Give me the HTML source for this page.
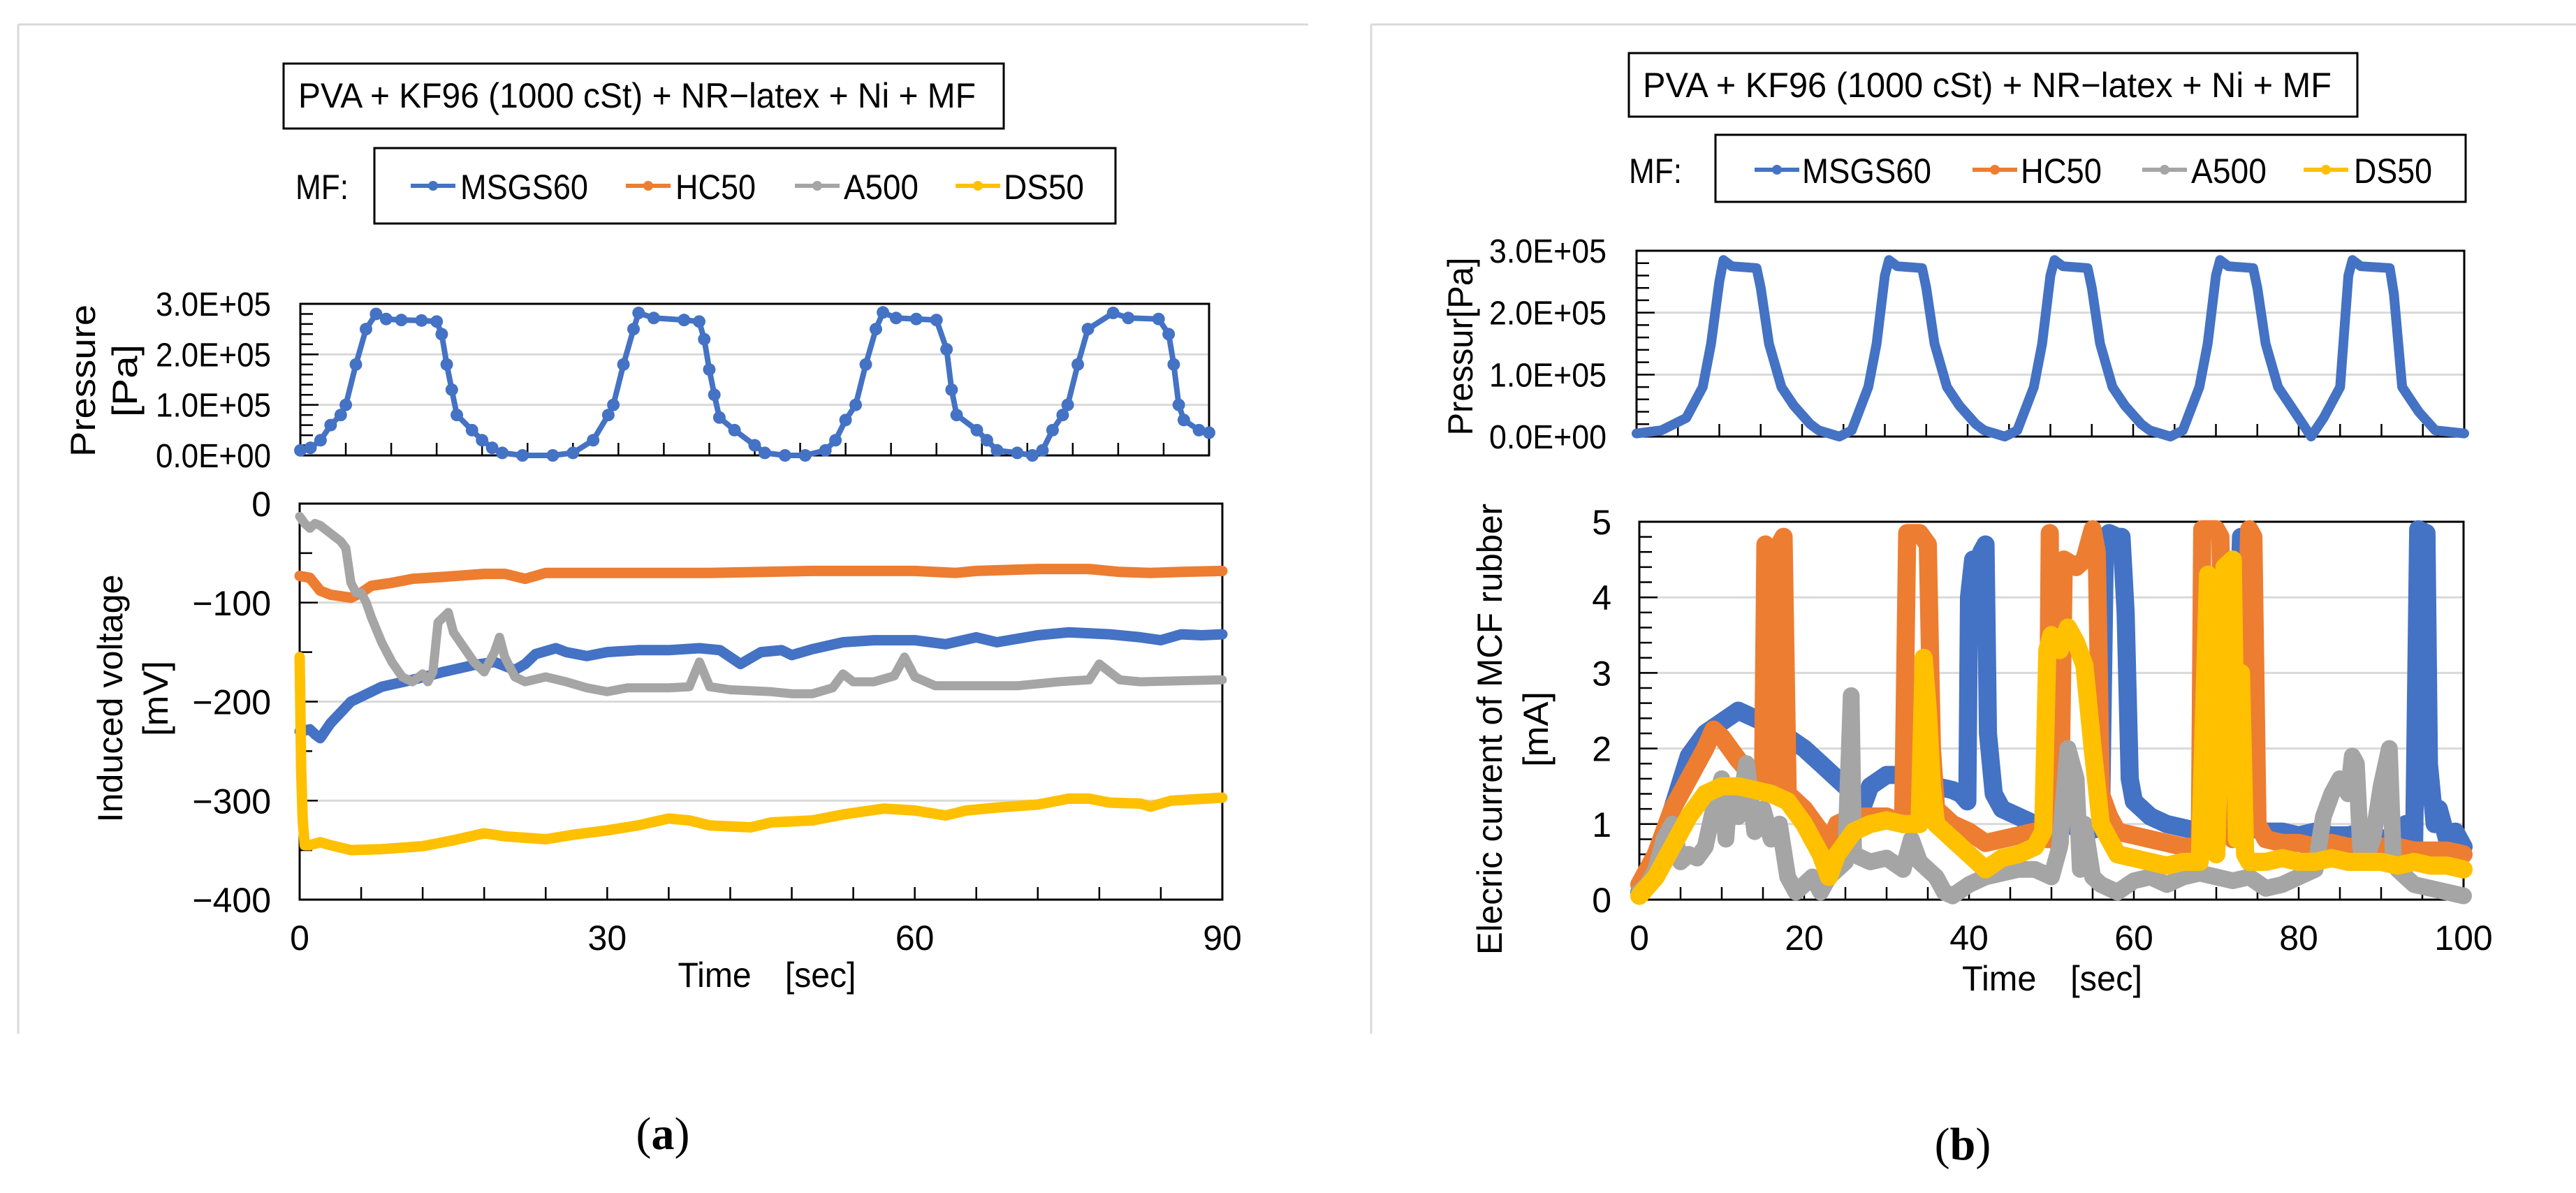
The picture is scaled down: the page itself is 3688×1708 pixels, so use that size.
<!DOCTYPE html>
<html><head><meta charset="utf-8">
<style>
html,body{margin:0;padding:0;background:#fff;}
svg{display:block;}
text{font-family:"Liberation Sans","Noto Sans CJK JP",sans-serif;fill:#000;}
</style></head>
<body>
<svg id="fig" width="3688" height="1708" viewBox="0 0 3688 1708" xmlns="http://www.w3.org/2000/svg">
  <g stroke="#d9d9d9" stroke-width="3" fill="none">
    <line x1="26" y1="35" x2="1873" y2="35"/>
    <line x1="26" y1="35" x2="26" y2="1480"/>
    <line x1="1963" y1="35" x2="3688" y2="35"/>
    <line x1="1963" y1="35" x2="1963" y2="1480"/>
  </g>
  <g id="panelA"></g>
  <g id="panelB"></g>
  <text x="949" y="1645" font-size="66" text-anchor="middle" style="font-family:'Liberation Serif',serif">(<tspan font-weight="bold">a</tspan>)</text>
  <text x="2810" y="1660" font-size="66" text-anchor="middle" style="font-family:'Liberation Serif',serif">(<tspan font-weight="bold">b</tspan>)</text>
</svg>
<script>
// ---------- DATA ----------
const seriesNames = ["MSGS60","HC50","A500","DS50"];
const seriesColors = ["#4472c4","#ed7d31","#a5a5a5","#ffc000"];

// Panel (a) pressure [x1e5 Pa]
const aPressT = [0,1,2,3,4,4.5,5.5,6.5,7.5,8.5,10,12,13.5,14,14.5,15,15.5,17,18,19,20,22,25,27,29,30.5,31,32,33,33.5,35,38,39.5,40,40.5,41,41.5,43,45,46,48,50,52,53,54,55,56,57,57.7,59,61,63,64,64.5,65,67,68,69,71,72.5,73.5,74.5,75.5,76,77,78,80.5,82,85,86,86.5,87,87.5,89,90];
const aPressV = [0.1,0.15,0.3,0.6,0.8,1.0,1.8,2.5,2.8,2.7,2.68,2.67,2.65,2.4,1.8,1.3,0.8,0.5,0.3,0.15,0.05,0.0,0.0,0.05,0.3,0.8,1.0,1.8,2.5,2.82,2.72,2.68,2.65,2.3,1.7,1.2,0.75,0.5,0.2,0.05,0.0,0.0,0.1,0.3,0.7,1.0,1.8,2.5,2.83,2.72,2.7,2.68,2.1,1.3,0.8,0.5,0.3,0.1,0.05,0.0,0.1,0.5,0.8,1.0,1.8,2.5,2.82,2.72,2.7,2.4,1.8,1.0,0.7,0.5,0.45];

// Panel (a) induced voltage [mV]
const aMsgsT = [0,1,1.5,2,3,5,8,11,14,17,19,21,22,23,25,26,28,30,33,36,39,41,43,45,47,48,50,53,56,60,63,66,68,72,75,79,82,84,86,88,90];
const aMsgsV = [-230,-228,-233,-237,-222,-200,-185,-178,-170,-163,-160,-168,-162,-152,-146,-150,-154,-150,-148,-148,-146,-148,-162,-150,-148,-153,-147,-140,-138,-138,-142,-135,-140,-133,-130,-132,-135,-138,-132,-133,-132];
const aHcT = [0,1,2,3,5,6,7,9,11,14,18,20,22,24,30,40,50,60,64,66,72,77,80,83,86,90];
const aHcV = [-73,-75,-88,-92,-95,-90,-83,-80,-76,-74,-71,-71,-76,-70,-70,-70,-68,-68,-70,-68,-66,-66,-69,-70,-69,-68];
const aA5T = [0,0.5,1,1.5,2,3,4,4.5,5,5.5,6,6.5,7,8,9,10,11,12,12.5,13,13.5,14,14.5,15,16,17,18,19,19.5,20,21,22,24,26,28,30,32,36,38,39,40,42,46,48,50,52,53,54,56,58,59,60,62,66,70,74,77,78,79,80,82,90];
const aA5V = [-13,-20,-25,-20,-22,-30,-38,-45,-80,-90,-90,-100,-115,-140,-160,-175,-180,-172,-180,-170,-120,-115,-110,-130,-145,-160,-170,-150,-135,-155,-175,-180,-175,-180,-186,-190,-186,-186,-185,-160,-185,-188,-190,-192,-192,-186,-172,-180,-180,-174,-155,-175,-184,-184,-184,-180,-178,-162,-170,-178,-180,-178];
const aDsT = [0,0.15,0.3,0.5,1,2,3,5,8,12,15,18,20,24,27,30,33,36,38,40,44,46,50,53,57,60,63,65,68,72,75,77,79,82,83,85,90];
const aDsV = [-155,-270,-320,-345,-345,-342,-345,-350,-349,-346,-340,-333,-336,-339,-334,-330,-325,-318,-320,-325,-327,-322,-320,-314,-308,-310,-315,-310,-307,-304,-298,-298,-302,-303,-306,-300,-297];
const aTicksX = [0,30,60,90];
const aTicksV = [0,-100,-200,-300,-400];
const pressTicks = [0,1,2,3];
const pressTickLabels = ["0.0E+00","1.0E+05","2.0E+05","3.0E+05"];

// Panel (b) pressure
const bPressT = [0,3,6,8,9,10,10.5,11.5,14.5,15,16,17.5,19,21,22,24.5,26,28,29,30,30.5,31.5,34.5,35,36,37.5,39,41,42,44.5,46,48,49,50,50.5,51.5,54.5,55,56,57.5,59,61,62,64.5,66,68,69,70,70.5,71.5,74.5,75,76,77.5,79,81,81.5,83,85,86,86.5,87.5,91,91.5,92.5,94.5,96.5,100];
const bPressV = [0.05,0.1,0.3,0.8,1.5,2.5,2.85,2.75,2.72,2.4,1.5,0.8,0.5,0.2,0.1,0.0,0.1,0.8,1.5,2.6,2.85,2.75,2.72,2.4,1.5,0.8,0.5,0.2,0.1,0.0,0.1,0.8,1.5,2.6,2.85,2.75,2.72,2.4,1.5,0.8,0.5,0.2,0.1,0.0,0.1,0.8,1.5,2.6,2.85,2.75,2.72,2.4,1.5,0.8,0.5,0.1,0.0,0.3,0.8,2.6,2.85,2.75,2.72,2.3,0.8,0.4,0.1,0.05];

// Panel (b) current [mA]
const bMsgsT = [0,2,4,6,8,10,12,14,16,18,20,22,24,26,27,28,30,32,34,36,38,39,39.8,40,40.5,41,41.5,42,42.3,43,44,46,48,50,52,54,56,56.5,57,58,58.5,59,59.5,60,62,64,66,68,70,72,73,73.5,74,76,78,80,82,84,86,88,90,92,93,94,94.5,95.5,95.8,96.5,97,98,99,100];
const bMsgsV = [0.1,0.5,1.2,1.9,2.2,2.35,2.5,2.4,2.3,2.15,2.0,1.8,1.6,1.4,1.2,1.5,1.65,1.65,1.55,1.5,1.45,1.4,1.3,4.0,4.5,4.3,4.6,4.7,2.2,1.4,1.2,1.1,1.0,0.95,1.0,0.9,0.95,4.8,4.85,4.8,4.8,3.8,1.6,1.3,1.1,1.0,0.95,0.9,0.9,0.85,4.8,4.7,0.95,0.9,0.9,0.85,0.9,0.85,0.85,0.9,0.8,0.85,1.0,0.7,4.9,4.85,1.8,1.0,1.2,0.8,0.9,0.7];
const bHcT = [0,2,4,6,8,9,10,12,14,15,15.3,15.8,16,17,17.5,18,20,22,23,24,26,30,32,32.5,34,35,35.5,36,38,40,42,44,46,48,49.5,49.8,50,51,51.5,53,54,55,55.5,56,57,58,60,62,64,66,68,68.3,70,70.5,71,72,73,74,74.5,75,76,78,80,82,84,86,88,90,92,94,96,98,100];
const bHcV = [0.2,0.6,1.2,1.6,2.0,2.25,2.15,1.85,1.6,1.5,4.7,4.5,1.5,4.7,4.8,1.4,1.2,0.9,0.7,1.0,1.1,1.1,1.0,4.85,4.85,4.7,2.0,1.2,1.0,0.9,0.75,0.8,0.85,0.9,0.8,4.85,0.8,0.75,4.5,4.4,4.5,4.9,4.6,1.4,1.1,0.9,0.85,0.8,0.75,0.7,0.7,4.9,4.9,4.8,1.0,0.8,0.9,4.9,4.8,1.0,0.8,0.75,0.75,0.7,0.75,0.7,0.7,0.7,0.7,0.65,0.65,0.65,0.6];
const bA5T = [0,1,2,3,4,5,6,7,8,9,10,10.5,11,12,13,14,15,16,17,18,19,20,21,22,23,25,25.7,26,28,30,32,33,34,36,37,38,40,42,44,46,48,50,51,52,53,53.5,54,55,56,58,60,62,64,66,68,70,72,74,76,78,80,82,83,84,85,86,86.5,87,87.5,88,89,90,91,91.5,92,94,96,98,100];
const bA5V = [0.1,0.2,0.4,0.8,1.0,0.5,0.6,0.55,0.7,1.2,1.6,0.8,1.5,1.1,1.8,0.9,1.2,0.8,1.0,0.3,0.1,0.2,0.3,0.1,0.3,0.5,2.7,0.6,0.5,0.55,0.4,0.8,0.5,0.3,0.1,0.05,0.2,0.3,0.35,0.4,0.4,0.3,0.7,2.0,1.6,0.4,1.0,0.3,0.2,0.1,0.25,0.3,0.2,0.3,0.35,0.3,0.25,0.3,0.15,0.2,0.3,0.4,1.1,1.4,1.6,1.4,1.9,1.8,0.7,0.5,0.8,1.5,2.0,0.5,0.4,0.2,0.15,0.1,0.05];
const bDsT = [0,2,4,6,8,10,12,14,16,18,20,22,23,24,26,28,30,32,34,34.5,35,35.5,36,38,40,42,44,46,48,49,49.5,50,51,52,53,54,55,56,57,58,60,62,64,66,68,69,69.5,70,71,72,72.5,73,73.5,74,76,78,80,82,84,86,88,90,92,94,96,98,100];
const bDsV = [0.05,0.3,0.7,1.1,1.4,1.5,1.5,1.45,1.4,1.3,1.0,0.6,0.3,0.6,0.9,1.0,1.05,1.0,1.0,3.2,2.5,1.5,1.0,0.8,0.6,0.4,0.55,0.6,0.7,0.9,3.3,3.5,3.3,3.6,3.4,3.1,2.0,1.0,0.8,0.6,0.55,0.5,0.45,0.5,0.5,4.3,1.0,0.6,4.4,4.5,0.8,3.0,0.6,0.5,0.5,0.55,0.5,0.5,0.55,0.5,0.5,0.5,0.45,0.5,0.45,0.45,0.4];
const bTicksX = [0,20,40,60,80,100];
const bTicksI = [0,1,2,3,4,5];

// ---------- HELPERS ----------
const NS = "http://www.w3.org/2000/svg";
function mk(parent, tag, attrs){
  const e = document.createElementNS(NS, tag);
  for (const k in attrs) e.setAttribute(k, attrs[k]);
  parent.appendChild(e);
  return e;
}
function txt(parent, x, y, s, size, anchor, len, rot){
  const t = mk(parent, "text", {x:x, y:y, "font-size":size, "text-anchor":anchor||"start"});
  if (len){ t.setAttribute("textLength", len); t.setAttribute("lengthAdjust","spacingAndGlyphs"); }
  if (rot) t.setAttribute("transform", "rotate(-90 "+x+" "+y+")");
  t.textContent = s;
  return t;
}
function scale(d0,d1,r0,r1){ return v => r0 + (v-d0)/(d1-d0)*(r1-r0); }
function pathFrom(ts, vs, sx, sy){
  let d = "";
  for (let i=0;i<ts.length;i++) d += (i?"L":"M") + sx(ts[i]).toFixed(1) + " " + sy(vs[i]).toFixed(1);
  return d;
}
function plotFrame(g, x0,y0,x1,y1, nx, yMajor, yMinorPer, gridVals, sy){
  const gr = mk(g,"g",{});
  
  
  gridVals.forEach(v => mk(gr,"line",{x1:x0,x2:x1,y1:sy(v),y2:sy(v),stroke:"#d9d9d9","stroke-width":3}));
  const tk = mk(g,"g",{stroke:"#000","stroke-width":2.5});
  
  
  for (let i=1;i<nx;i++){ const x = x0+(x1-x0)*i/nx; mk(tk,"line",{x1:x,x2:x,y1:y1,y2:y1-18}); }
  const n = yMajor*yMinorPer;
  for (let i=1;i<n;i++){ const y = y1-(y1-y0)*i/n; mk(tk,"line",{x1:x0,x2:x0+(i%yMinorPer===0?26:18),y1:y,y2:y}); }
  const fr = mk(g,"rect",{x:x0,y:y0,width:x1-x0,height:y1-y0,fill:"none",stroke:"#000","stroke-width":3});
  
  
}
function legend(g, bx,by,bw,bh, mfx, base, lines, texts, lens){
  const tb = mk(g,"rect",{x:bx,y:by,width:bw,height:bh,fill:"#fff",stroke:"#000","stroke-width":3});
  
  
  const mf = txt(g, mfx, base, "MF:", 50, "start", 76);
  
  
  for (let i=0;i<4;i++){
    const eg = mk(g,"g",{});
    
    
    mk(eg,"line",{x1:lines[i],x2:lines[i]+64,y1:base-19,y2:base-19,stroke:seriesColors[i],"stroke-width":6});
    mk(eg,"circle",{cx:lines[i]+32,cy:base-19,r:7,fill:seriesColors[i]});
    txt(eg, texts[i], base, seriesNames[i], 50, "start", lens[i]);
  }
}
function seriesPath(g, ts, vs, sx, sy, color, w, name, markers){
  const p = mk(g,"path",{d:pathFrom(ts,vs,sx,sy),fill:"none",stroke:color,"stroke-width":w,"stroke-linejoin":"round","stroke-linecap":"round"});
  
  
  if (markers){
    for (let i=0;i<ts.length;i++){
      const c = mk(g,"circle",{cx:sx(ts[i]),cy:sy(vs[i]),r:markers,fill:color});
      
      
    }
  }
}

// ---------- PANEL A ----------
(function(){
  const g = document.getElementById("panelA");
  const tr = mk(g,"rect",{x:406,y:91,width:1031,height:93,fill:"#fff",stroke:"#000","stroke-width":3});
  
  
  const tt = txt(g, 427, 154, "PVA + KF96 (1000 cSt) + NR\u2212latex + Ni + MF", 50, "start", 970);
  
  
  legend(g, 536,212,1061,108, 423, 285, [588,896,1138,1368],[659,967,1208,1437],[183,115,107,115]);

  const px0=430, px1=1731, py0=435, py1=652;
  const psx = scale(0,90,px0,px1), psy = scale(0,3,py1,py0);
  const pg = mk(g,"g",{});
  
  
  plotFrame(pg, px0,py0,px1,py1, 20, 3, 5, [1,2], psy);
  pressTicks.forEach((v,i)=>{ const t=txt(pg, 388, psy(v)+17, pressTickLabels[i], 48, "end", 165);
      });
  let t1 = txt(pg, 136, 545, "Pressure", 50, "middle", 218, true);
   
  let t2 = txt(pg, 196, 545, "[Pa]", 50, "middle", 104, true);
   
  seriesPath(pg, aPressT, aPressV, psx, psy, seriesColors[0], 8, "pressure-line", 9);

  const vx0=429, vx1=1750, vy0=721, vy1=1288;
  const vsx = scale(0,90,vx0,vx1), vsy = scale(-400,0,vy1,vy0);
  const vg = mk(g,"g",{});
  
  
  plotFrame(vg, vx0,vy0,vx1,vy1, 15, 4, 2, [-100,-200,-300], vsy);
  aTicksV.forEach(v=>{ const s = v===0?"0":"\u2212"+(-v); const t=txt(vg, 388, vsy(v)+18, s, 50, "end");
      });
  aTicksX.forEach(v=>{ const t=txt(vg, vsx(v), 1360, String(v), 50, "middle");
      });
  let t3 = txt(vg, 1098, 1413, "Time\u3000[sec]", 50, "middle", 255);
   
  let t4 = txt(vg, 175, 1000, "Induced voltage", 50, "middle", 355, true);
   
  let t5 = txt(vg, 240, 1000, "[mV]", 50, "middle", 108, true);
   
  const sg = mk(vg,"g",{});
  
  
  seriesPath(sg, aMsgsT, aMsgsV, vsx, vsy, seriesColors[0], 15, "series-msgs60");
  seriesPath(sg, aHcT, aHcV, vsx, vsy, seriesColors[1], 15, "series-hc50");
  seriesPath(sg, aA5T, aA5V, vsx, vsy, seriesColors[2], 13, "series-a500");
  seriesPath(sg, aDsT, aDsV, vsx, vsy, seriesColors[3], 15, "series-ds50");
})();

// ---------- PANEL B ----------
(function(){
  const g = document.getElementById("panelB");
  const tr = mk(g,"rect",{x:2332,y:76,width:1043,height:91,fill:"#fff",stroke:"#000","stroke-width":3});
  
  
  const tt = txt(g, 2352, 139, "PVA + KF96 (1000 cSt) + NR\u2212latex + Ni + MF", 50, "start", 986);
  
  
  legend(g, 2456,193,1074,96, 2332, 262, [2512,2824,3067,3298],[2580,2893,3137,3370],[185,116,108,112]);

  const px0=2343, px1=3528, py0=359, py1=625;
  const psx = scale(0,100,px0,px1), psy = scale(0,3,py1,py0);
  const pg = mk(g,"g",{});
  
  
  plotFrame(pg, px0,py0,px1,py1, 20, 3, 5, [1,2], psy);
  pressTicks.forEach((v,i)=>{ const t=txt(pg, 2300, psy(v)+17, pressTickLabels[i], 48, "end", 168);
      });
  let t1 = txt(pg, 2108, 496, "Pressur[Pa]", 50, "middle", 255, true);
   
  seriesPath(pg, bPressT, bPressV, psx, psy, seriesColors[0], 14, "pressure-line");

  const cx0=2347, cx1=3527, cy0=747, cy1=1288;
  const csx = scale(0,100,cx0,cx1), csy = scale(0,5,cy1,cy0);
  const cg = mk(g,"g",{});
  
  
  plotFrame(cg, cx0,cy0,cx1,cy1, 20, 5, 5, [1,2,3,4], csy);
  bTicksI.forEach(v=>{ const t=txt(cg, 2307, csy(v)+18, String(v), 50, "end");
      });
  bTicksX.forEach(v=>{ const t=txt(cg, csx(v), 1360, String(v), 50, "middle");
      });
  let t3 = txt(cg, 2938, 1418, "Time\u3000[sec]", 50, "middle", 258);
   
  let t4 = txt(cg, 2150, 1044, "Elecric current of MCF rubber", 50, "middle", 646, true);
   
  let t5 = txt(cg, 2216, 1044, "[mA]", 50, "middle", 108, true);
   
  const sg = mk(cg,"g",{});
  
  
  seriesPath(sg, bMsgsT, bMsgsV, csx, csy, seriesColors[0], 26, "series-msgs60");
  seriesPath(sg, bHcT, bHcV, csx, csy, seriesColors[1], 26, "series-hc50");
  seriesPath(sg, bA5T, bA5V, csx, csy, seriesColors[2], 24, "series-a500");
  seriesPath(sg, bDsT, bDsV, csx, csy, seriesColors[3], 26, "series-ds50");
})();
</script>
</body></html>
